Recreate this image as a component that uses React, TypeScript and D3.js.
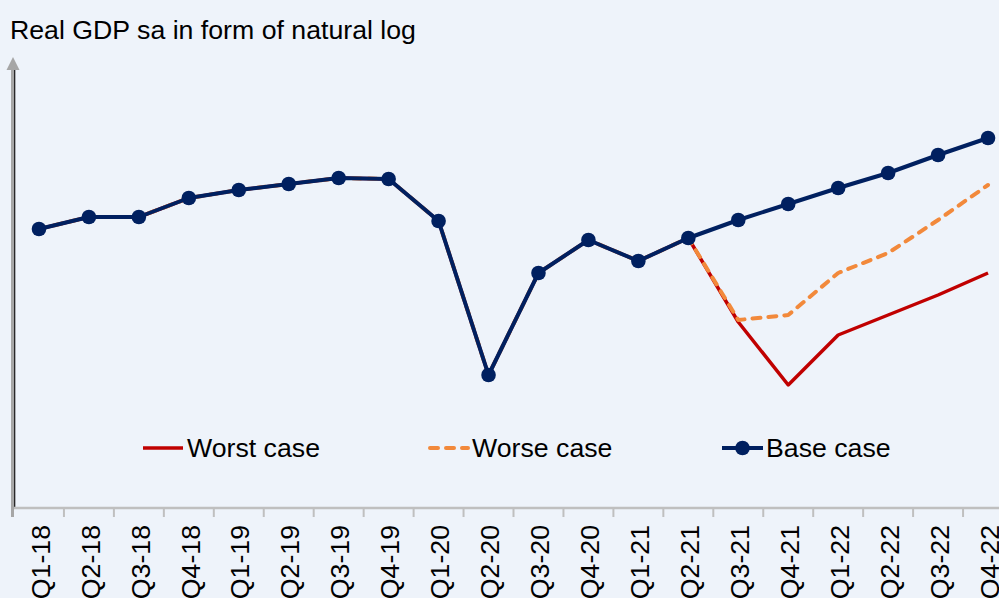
import * as d3 from "d3";

// quarters on the x axis
const quarters = [
  "Q1-18", "Q2-18", "Q3-18", "Q4-18",
  "Q1-19", "Q2-19", "Q3-19", "Q4-19",
  "Q1-20", "Q2-20", "Q3-20", "Q4-20",
  "Q1-21", "Q2-21", "Q3-21", "Q4-21",
  "Q1-22", "Q2-22", "Q3-22", "Q4-22",
];

const baseCase = [
  12.879, 12.891, 12.891, 12.910,
  12.918, 12.924, 12.930, 12.929,
  12.887, 12.733, 12.835, 12.868,
  12.847, 12.870, 12.888, 12.904,
  12.920, 12.935, 12.953, 12.970,
];
const worseCase = [
  12.879, 12.891, 12.891, 12.910,
  12.918, 12.924, 12.930, 12.929,
  12.887, 12.733, 12.835, 12.868,
  12.847, 12.870, 12.788, 12.793,
  12.835, 12.855, 12.888, 12.923,
];
const worstCase = [
  12.879, 12.891, 12.891, 12.910,
  12.918, 12.924, 12.930, 12.929,
  12.887, 12.733, 12.835, 12.868,
  12.847, 12.870, 12.786, 12.723,
  12.773, 12.793, 12.813, 12.835,
];

const legendLabels = ["Worst case", "Worse case", "Base case"];

const W = 999;
const H = 598;
const FONT = "'Liberation Sans', Arial, sans-serif";
const NAVY = "#002060";
const RED = "#C00000";
const ORANGE = "#F2893B";

export default function App() {
  const x = d3.scaleBand<string>().domain(quarters).range([14, 1013]);
  const y = d3.scaleLinear().domain([12.6, 13.05]).range([508, 58]);
  const cx = (i: number) => (x(quarters[i]) ?? 0) + x.bandwidth() / 2;

  const line = d3
    .line<number>()
    .x((_, i) => cx(i))
    .y((d) => y(d));

  const axisY = y(12.6);

  // legend layout
  const legendY = 448;
  const legendX = [143, 428, 722];

  return (
    <svg
      width={W}
      height={H}
      style={{ position: "absolute", left: 0, top: 0, display: "block" }}
      fontFamily={FONT}
    >
      <rect width={W} height={H} fill="#EEF3FA" />

      <text x={10} y={38.5} fontSize={26.7} fill="#000">
        Real GDP sa in form of natural log
      </text>

      {/* y axis with arrow */}
      <line x1={12.5} x2={12.5} y1={66} y2={517} stroke="#A6A6A6" strokeWidth={3} />
      <path d="M13,57 L6.5,70 L19.5,70 Z" fill="#A6A6A6" />
      <line x1={14.7} x2={14.7} y1={70} y2={axisY} stroke="#111" strokeWidth={1.2} />

      {/* x axis */}
      <line x1={14} x2={W} y1={axisY} y2={axisY} stroke="#BFBFBF" strokeWidth={2.5} />
      {quarters.map((q, i) =>
        i === 0 ? null : (
          <line
            key={"t" + q}
            x1={x(q)}
            x2={x(q)}
            y1={axisY}
            y2={517}
            stroke="#BFBFBF"
            strokeWidth={2}
          />
        )
      )}
      {quarters.map((q, i) => (
        <text
          key={"l" + q}
          transform={`translate(${cx(i)},525) rotate(-90)`}
          dy="0.4em"
          textAnchor="end"
          fontSize={26.7}
          fill="#000"
        >
          {q}
        </text>
      ))}

      {/* series */}
      <path d={line(worstCase) ?? ""} fill="none" stroke={RED} strokeWidth={3.5} strokeLinejoin="round" />
      <path
        d={line(worseCase) ?? ""}
        fill="none"
        stroke={ORANGE}
        strokeWidth={4}
        strokeDasharray="8,8"
        strokeLinecap="round"
        strokeLinejoin="round"
      />
      <path d={line(baseCase) ?? ""} fill="none" stroke={NAVY} strokeWidth={4} strokeLinejoin="round" />
      {baseCase.map((v, i) => (
        <circle key={"m" + i} cx={cx(i)} cy={y(v)} r={7.3} fill={NAVY} />
      ))}

      {/* legend */}
      <g fontSize={26.7} fill="#000">
        <line x1={legendX[0]} x2={legendX[0] + 40} y1={legendY} y2={legendY} stroke={RED} strokeWidth={3.5} />
        <line
          x1={legendX[1] + 2}
          x2={legendX[1] + 40}
          y1={legendY}
          y2={legendY}
          stroke={ORANGE}
          strokeWidth={4}
          strokeDasharray="8,8"
          strokeLinecap="round"
        />
        <line x1={legendX[2]} x2={legendX[2] + 41} y1={legendY} y2={legendY} stroke={NAVY} strokeWidth={4} />
        <circle cx={legendX[2] + 20.5} cy={legendY} r={7.3} fill={NAVY} />
        {legendLabels.map((t, i) => (
          <text key={t} x={legendX[i] + 44} y={legendY} dy="0.35em">
            {t}
          </text>
        ))}
      </g>
    </svg>
  );
}
